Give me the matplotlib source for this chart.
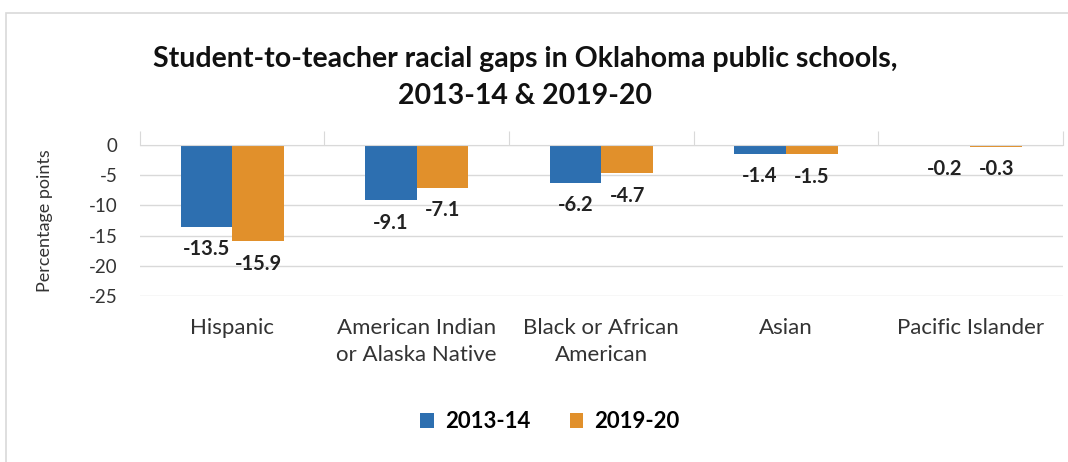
import matplotlib.pyplot as plt
import numpy as np
from matplotlib.patches import Rectangle

categories = ['Hispanic', 'American Indian\nor Alaska Native', 'Black or African\nAmerican',
              'Asian', 'Pacific Islander']
gap_2013 = [-13.5, -9.1, -6.2, -1.4, -0.2]
gap_2019 = [-15.9, -7.1, -4.7, -1.5, -0.3]
series_labels = ['2013-14', '2019-20']

blue = '#2D6FB0'
orange = '#E1902B'
plt.rcParams['font.family'] = ['Lato', 'DejaVu Sans']
plt.rcParams['axes.unicode_minus'] = False

fig = plt.figure(figsize=(10.68, 4.62), dpi=100)
# thin frame around the chart like the Excel chart area
fig.patches.append(Rectangle((0.006, -0.01), 1.0, 0.982, transform=fig.transFigure,
                             fill=False, edgecolor='#d9d9d9', linewidth=1.2))

ax = fig.add_axes([0.131, 0.359, 0.864, 0.327])
x = np.arange(len(categories))
w = 0.28
b1 = ax.bar(x - w / 2, gap_2013, w, color=blue, label=series_labels[0])
b2 = ax.bar(x + w / 2, gap_2019, w, color=orange, label=series_labels[1])

for bars, vals in [(b1, gap_2013), (b2, gap_2019)]:
    for bar, v in zip(bars, vals):
        ax.annotate(f'{v}', (bar.get_x() + bar.get_width() / 2, v), xytext=(0, -9),
                    textcoords='offset points', ha='center', va='top',
                    fontsize=14.5, fontweight='bold', color='#222222')

ax.set_ylim(-25, 0)
ax.set_xlim(-0.5, len(categories) - 0.5)
ax.set_yticks(range(-25, 1, 5))
ax.yaxis.grid(True, color='#d9d9d9', linewidth=1)
ax.set_axisbelow(True)
for s in ['left', 'right', 'bottom']:
    ax.spines[s].set_visible(False)
ax.spines['top'].set_color('#d9d9d9')
ax.tick_params(axis='y', length=0, labelsize=13.5, pad=16, labelcolor='#333333')

# category boundary tick marks above the zero line
ax.set_xticks(np.arange(-0.5, len(categories), 1))
ax.xaxis.set_ticks_position('top')
ax.tick_params(axis='x', which='major', length=10, color='#d9d9d9', labeltop=False)
for i, c in enumerate(categories):
    ax.text(i, -28.6, c, ha='center', va='top', fontsize=16, color='#333333',
            linespacing=1.45)

ax.set_ylabel('Percentage points', fontsize=13, color='#333333', labelpad=26)

fig.text(0.492, 0.832, 'Student-to-teacher racial gaps in Oklahoma public schools,\n2013-14 & 2019-20',
         ha='center', va='center', fontsize=20.5, fontweight='bold', color='#111111',
         linespacing=1.5)

fig.legend(handles=[b1, b2], labels=series_labels, loc='center', bbox_to_anchor=(0.515, 0.087),
           ncol=2, frameon=False, prop={'weight': 'bold', 'size': 16},
           handlelength=0.6, handleheight=0.6, columnspacing=1.8, handletextpad=0.5)

fig.savefig('out.png', dpi=100)
